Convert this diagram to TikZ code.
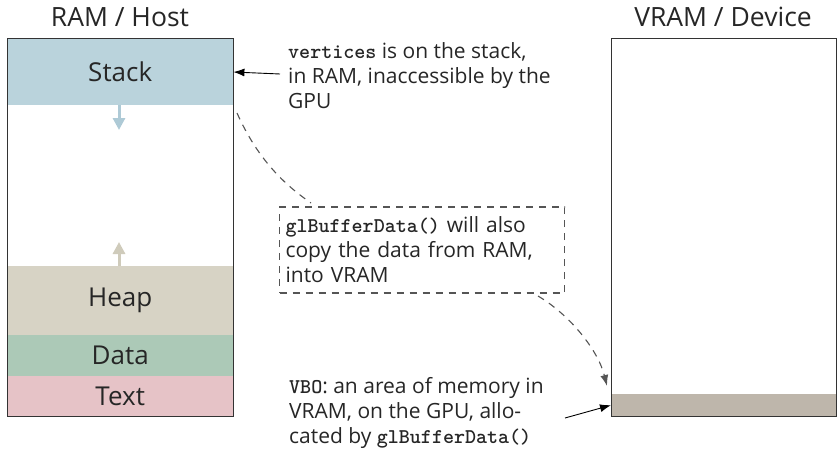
\documentclass[tikz,border=0pt]{standalone}
\usepackage{fontspec}
\setmainfont{Open Sans}
\usetikzlibrary{arrows.meta}

\definecolor{stackcol}{HTML}{BAD3DC}
\definecolor{heapcol}{HTML}{D7D3C5}
\definecolor{datacol}{HTML}{ACC9B7}
\definecolor{textcol}{HTML}{E6C3C7}
\definecolor{vbocol}{HTML}{BEB6AB}
\definecolor{stackarrow}{HTML}{AECAD6}
\definecolor{heaparrow}{HTML}{CFCBBB}
\definecolor{framecol}{HTML}{333333}
\definecolor{dashcol}{HTML}{555555}

\newcommand{\code}[1]{{\ttfamily\bfseries #1}}

\tikzset{
  region/.style={draw=none, inner sep=0pt, anchor=north west},
  seglabel/.style={font=\fontsize{26}{30}\selectfont, inner sep=0pt, text=black!85},
  memframe/.style={draw=framecol, line width=1.3pt, inner sep=0pt, anchor=north west},
  title/.style={font=\fontsize{26.5}{30}\selectfont, inner sep=0pt, text=black!85},
  note/.style={align=left, inner sep=0pt, anchor=west, text=black!85,
    font=\fontsize{21}{25}\selectfont},
  pointer/.style={-{Latex[length=11pt,width=8pt]}, line width=0.9pt, black},
  growth/.style={-{Triangle[length=12pt,width=12pt]}, line width=3pt},
  dashlink/.style={dashcol, line width=1.1pt, dash pattern=on 7pt off 6pt},
}

\begin{document}
\begin{tikzpicture}[x=1pt, y=-1pt]
  \useasboundingbox (0,0) rectangle (838,452);

  % host memory segments
  \node[region, fill=stackcol, minimum width=226pt, minimum height=67pt] (stack) at (7,38) {};
  \node[region, fill=heapcol, minimum width=226pt, minimum height=69pt] (heap) at (7,266) {};
  \node[region, fill=datacol, minimum width=226pt, minimum height=41pt] (data) at (7,335) {};
  \node[region, fill=textcol, minimum width=226pt, minimum height=40pt] (text) at (7,376) {};
  \node[seglabel] (stacklabel) at (stack.center) {Stack};
  \node[seglabel] (heaplabel) at (heap.center) {Heap};
  \node[seglabel] (datalabel) at (data.center) {Data};
  \node[seglabel] (textlabel) at (text.center) {Text};

  % growth directions of stack and heap
  \coordinate (sgrow) at (119,130);
  \coordinate (hgrow) at (119,242);
  \draw[growth, stackarrow] (stack.south -| sgrow) -- (sgrow);
  \draw[growth, heaparrow] (heap.north -| hgrow) -- (hgrow);

  % device memory
  \node[region, fill=vbocol, minimum width=225pt, minimum height=22pt] (vbo) at (611,394) {};

  % frames
  \node[memframe, minimum width=226pt, minimum height=378pt] (ram) at (7,38) {};
  \node[memframe, minimum width=225pt, minimum height=378pt] (vram) at (611,38) {};

  % titles
  \node[title] (ramtitle) at (120,17) {RAM / Host};
  \node[title] (vramtitle) at (723,17) {VRAM / Device};

  % notes
  \node[note] (stacknote) at (288,76) {\code{vertices} is on the stack,\\in RAM, inaccessible by the\\GPU};
  \node[note, draw=dashcol, line width=1.1pt, dash pattern=on 7pt off 6pt,
        minimum width=285pt, minimum height=86pt, inner xsep=6pt, text width=273pt]
        (copynote) at (279,250) {\code{glBufferData()} will also\\copy the data from RAM,\\into VRAM};
  \node[note] (vbonote) at (289,413) {\code{VBO}: an area of memory in\\VRAM, on the GPU, allo-\\cated by \code{glBufferData()}};

  % connectors
  \coordinate (stackcorner) at (237,113);
  \coordinate (copyin) at (311,203);
  \coordinate (copyout) at (538,296);
  \coordinate (vboarrive) at (607,386);
  \coordinate (vbostart) at (565,418);
  \coordinate (stacktail) at (280,74);

  \draw[pointer] (stacktail) -- (stack.east |- 0,72);
  \draw[dashlink] (stackcorner) .. controls (258,160) and (285,185) .. (copyin);
  \draw[dashlink, -{Latex[length=11pt,width=8pt]}] (copyout) .. controls (570,315) and (598,350) .. (vboarrive);
  \draw[pointer] (vbostart) -- (vbo.west);
\end{tikzpicture}
\end{document}
